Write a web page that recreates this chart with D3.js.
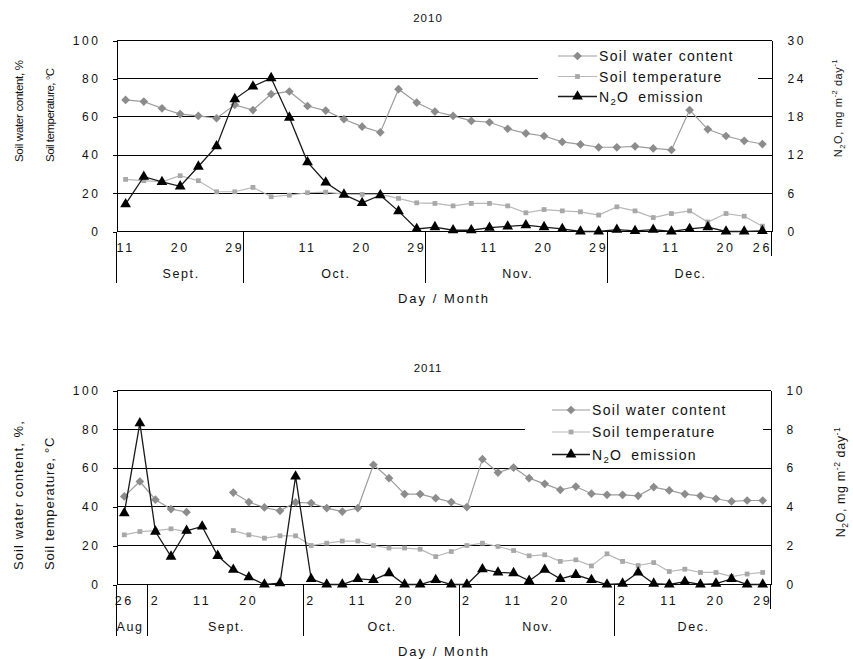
<!DOCTYPE html>
<html>
<head>
<meta charset="utf-8">
<script src="https://cdn.jsdelivr.net/npm/d3@7"></script>
<style>
  body { margin: 0; background: #fff; }
  svg { display: block; }
</style>
</head>
<body>
<script>
// ---- 2010: samples every third day, 11 Sept – 26 Dec ----
const days2010 = ["11","","","20","","","29","","","","11","","","20","","","29","","","","11","","","20","","","29","","","","11","","","20","","26"];
const months2010 = ["Sept.","Oct.","Nov.","Dec."];
const monthLengths2010 = [7,10,10,9];
const water2010 = [68.9,68.0,64.5,61.5,60.5,59.3,66.3,63.6,71.9,73.3,65.7,63.3,58.8,54.9,51.9,74.5,67.5,62.8,60.5,57.9,57.2,53.8,51.4,50.0,46.9,45.6,44.1,44.1,44.6,43.5,42.7,63.6,53.5,50.0,47.5,45.8];
const temp2010 = [27.3,26.6,26.0,29.2,26.6,20.8,20.8,23.1,18.2,19.0,20.3,20.6,19.6,19.4,19.4,17.3,15.0,14.7,13.4,14.7,14.7,13.4,9.8,11.5,10.8,10.3,8.6,12.9,10.8,7.3,9.4,10.8,5.0,9.4,8.0,2.8];
const n2o2010 = [4.3,8.6,7.8,7.1,10.2,13.4,20.8,22.8,24.1,17.9,10.9,7.7,5.8,4.5,5.7,3.2,0.4,0.7,0.2,0.2,0.6,0.8,1.0,0.7,0.4,0,0,0.3,0.1,0.3,0,0.4,0.7,0,0,0.1];
const n2oTicks2010 = [0,6,12,18,24,30];

// ---- 2011: samples every third day, 26 Aug – 29 Dec (no soil readings on two dates) ----
const days2011 = ["26","","2","","","11","","","20","","","","2","","","11","","","20","","","","2","","","11","","","20","","","","2","","","11","","","20","","","29"];
const months2011 = ["Aug","Sept.","Oct.","Nov.","Dec."];
const monthLengths2011 = [2,10,10,10,10];
const water2011 = [45.4,53.1,43.7,38.9,37.3,null,null,47.4,42.5,39.7,38.0,42.3,42.0,39.4,37.6,39.4,61.7,54.8,46.6,46.6,44.5,42.5,39.9,64.6,57.7,60.3,54.8,51.9,48.8,50.5,46.8,46.2,46.2,45.7,50.2,48.5,46.6,45.7,44.2,42.8,43.3,43.3];
const temp2011 = [25.6,27.3,27.8,28.7,27.3,null,null,27.8,25.6,23.9,25.1,25.1,20.1,21.3,22.4,22.4,20.1,18.8,18.8,18.2,14.4,17.0,20.1,21.3,19.6,17.5,14.8,15.3,11.9,12.7,9.6,15.8,11.9,9.8,11.3,6.7,7.9,6.2,6.2,4.1,5.4,6.2];
const n2o2011 = [3.68,8.32,2.73,1.44,2.77,2.99,1.48,0.76,0.38,0,0.07,5.57,0.29,0,0,0.29,0.24,0.59,0,0,0.24,0,0,0.79,0.62,0.59,0.19,0.76,0.29,0.5,0.24,0,0.05,0.62,0.05,0,0.15,0,0.05,0.29,0,0];
const n2oTicks2011 = [0,2,4,6,8,10];

const leftTicks = [0,20,40,60,80,100];
const seriesNames = ["Soil water content","Soil temperature","N2O emission"];

const FONT = "'Liberation Sans', Arial, sans-serif";
const colWater = "#8c8c8c", colWaterLine = "#9c9c9c";
const colTemp = "#a8a8a8", colTempLine = "#b8b8b8";
const colN2O = "#000", colN2OLine = "#1a1a1a";

const svg = d3.select("body").append("svg")
  .attr("width", 853).attr("height", 659)
  .style("font-family", FONT);

const diamond = d3.symbol(d3.symbolSquare, 38);
const square = d3.symbol(d3.symbolSquare, 34);
const triangle = d3.symbol(d3.symbolTriangle, 50);

function drawPanel(p) {
  const n = p.days.length;
  const x = d3.scaleBand().domain(d3.range(n)).range([p.left, p.right]);
  const cx = i => x(i) + x.bandwidth() / 2;
  const yL = d3.scaleLinear().domain([0, 100]).range([p.bottom, p.top]);
  const yR = d3.scaleLinear().domain([0, d3.max(p.n2oTicks)]).range([p.bottom, p.top]);
  const g = svg.append("g");

  // horizontal gridlines (0 is the category axis, 100 is the top border)
  g.append("g").selectAll("line").data(leftTicks).join("line")
    .attr("x1", p.left).attr("x2", p.right)
    .attr("y1", d => yL(d)).attr("y2", d => yL(d))
    .attr("stroke", "#000").attr("stroke-width", 1)
    .attr("shape-rendering", "crispEdges");

  // left value axis
  const axL = g.append("g").attr("transform", `translate(${p.left},0)`)
    .call(d3.axisLeft(yL).tickValues(leftTicks).tickSize(4).tickSizeOuter(0).tickPadding(12));
  axL.attr("font-family", null).attr("font-size", null);
  axL.select(".domain").attr("stroke", "#000").attr("shape-rendering", "crispEdges");
  axL.selectAll(".tick line").attr("stroke", "#000").attr("shape-rendering", "crispEdges");
  axL.selectAll(".tick text").style("font-size", "12px").style("letter-spacing", "2.6px").attr("fill", "#111");

  // right value axis (N2O)
  const axR = g.append("g").attr("transform", `translate(${p.right},0)`)
    .call(d3.axisRight(yR).tickValues(p.n2oTicks).tickSize(0).tickSizeOuter(0).tickPadding(16));
  axR.attr("font-family", null).attr("font-size", null);
  axR.select(".domain").attr("stroke", "#000").attr("shape-rendering", "crispEdges");
  axR.selectAll(".tick text").style("font-size", "12px").style("letter-spacing", "2.6px").attr("fill", "#111");

  // category axis: day labels
  const tickIdx = d3.range(n).filter(i => p.days[i] !== "");
  const axB = g.append("g").attr("transform", `translate(0,${p.bottom})`)
    .call(d3.axisBottom(x).tickValues(tickIdx).tickFormat(i => p.days[i]).tickSize(0).tickPadding(12));
  axB.attr("font-family", null).attr("font-size", null);
  axB.select(".domain").remove();
  axB.selectAll(".tick text").style("font-size", "12.5px").style("letter-spacing", "2.6px")
    .attr("fill", "#111").attr("dx", "0");

  // month separators and month names
  const starts = d3.cumsum([0, ...p.monthLengths]).slice(0, p.months.length);
  starts.forEach((s, k) => {
    const xs = x(s);
    g.append("line").attr("x1", xs).attr("x2", xs)
      .attr("y1", p.bottom).attr("y2", p.bottom + 51)
      .attr("stroke", "#000").attr("shape-rendering", "crispEdges");
    const xe = x(s + p.monthLengths[k] - 1) + x.bandwidth();
    g.append("text").attr("x", (xs + xe) / 2 + (k === 0 && p.monthLengths[0] < 3 ? -2 : 1)).attr("y", p.bottom + 46)
      .attr("text-anchor", "middle").style("font-size", "12.5px").style("letter-spacing", "1.6px")
      .attr("fill", "#111").text(p.months[k]);
  });
  g.append("line").attr("x1", p.right).attr("x2", p.right)
    .attr("y1", p.bottom).attr("y2", p.bottom + 24)
    .attr("stroke", "#000").attr("shape-rendering", "crispEdges");

  g.append("text").attr("x", 444).attr("y", p.bottom + 71)
    .attr("text-anchor", "middle").style("font-size", "13px").style("letter-spacing", "2px")
    .attr("fill", "#111").text("Day / Month");

  // year title
  g.append("text").attr("x", 428).attr("y", p.top - 19)
    .attr("text-anchor", "middle").style("font-size", "11.5px").style("letter-spacing", "1px")
    .attr("fill", "#111").text(p.year);

  // left axis titles
  p.leftTitle.forEach(t => {
    g.append("text")
      .attr("transform", `translate(${t.x},${t.y}) rotate(-90)`)
      .attr("text-anchor", "start")
      .style("font-size", t.size + "px").style("letter-spacing", t.ls + "px")
      .attr("fill", "#111").text(t.text);
  });

  // right axis title N2O, mg m-2 day-1
  const rt = g.append("text")
    .attr("transform", `translate(${p.rightTitle.x},${p.rightTitle.y}) rotate(-90)`)
    .attr("text-anchor", "middle")
    .style("font-size", p.rightTitle.size + "px").style("letter-spacing", "0.6px")
    .attr("fill", "#111");
  const small = p.rightTitle.size * 0.68;
  rt.append("tspan").text("N");
  rt.append("tspan").attr("dy", 3).style("font-size", small + "px").text("2");
  rt.append("tspan").attr("dy", -3).text("O, mg m");
  rt.append("tspan").attr("dy", -5).style("font-size", small + "px").text("-2");
  rt.append("tspan").attr("dy", 5).text(" day");
  rt.append("tspan").attr("dy", -5).style("font-size", small + "px").text("-1");

  // series lines
  const lineL = d3.line().defined(d => d != null).x((d, i) => cx(i)).y(d => yL(d));
  const lineR = d3.line().x((d, i) => cx(i)).y(d => yR(d));
  g.append("path").datum(p.water).attr("d", lineL)
    .attr("fill", "none").attr("stroke", colWaterLine).attr("stroke-width", 1.2);
  g.append("path").datum(p.temp).attr("d", lineL)
    .attr("fill", "none").attr("stroke", colTempLine).attr("stroke-width", 1.2);

  g.append("g").selectAll("path")
    .data(p.water.map((v, i) => [v, i]).filter(d => d[0] != null)).join("path")
    .attr("d", diamond)
    .attr("transform", d => `translate(${cx(d[1])},${yL(d[0])}) rotate(45)`)
    .attr("fill", colWater);
  g.append("g").selectAll("path")
    .data(p.temp.map((v, i) => [v, i]).filter(d => d[0] != null)).join("path")
    .attr("d", square)
    .attr("transform", d => `translate(${cx(d[1])},${yL(d[0])}) scale(0.82)`)
    .attr("fill", colTemp);

  g.append("path").datum(p.n2o).attr("d", lineR)
    .attr("fill", "none").attr("stroke", colN2OLine).attr("stroke-width", 1.3);
  g.append("g").selectAll("path")
    .data(p.n2o.map((v, i) => [v, i])).join("path")
    .attr("d", triangle)
    .attr("transform", d => `translate(${cx(d[1])},${yR(d[0])})`)
    .attr("fill", colN2O);

  // legend
  const L = p.legend;
  const lg = g.append("g");
  lg.append("rect").attr("x", L.x0).attr("y", L.y0)
    .attr("width", L.x1 - L.x0).attr("height", L.y1 - L.y0).attr("fill", "#fff");
  const styles = [
    { c: colWaterLine, m: colWater, sym: diamond, rot: "rotate(45)", w: 1.2 },
    { c: colTempLine, m: colTemp, sym: square, rot: "scale(0.82)", w: 1.2 },
    { c: colN2OLine, m: colN2O, sym: triangle, rot: "", w: 1.3 }
  ];
  seriesNames.forEach((name, k) => {
    const y = L.rows[k], s = styles[k];
    lg.append("line").attr("x1", L.lx0).attr("x2", L.lx1).attr("y1", y).attr("y2", y)
      .attr("stroke", s.c).attr("stroke-width", s.w);
    lg.append("path").attr("d", s.sym)
      .attr("transform", `translate(${(L.lx0 + L.lx1) / 2},${y}) ${s.rot}`).attr("fill", s.m);
    const t = lg.append("text").attr("x", L.tx).attr("y", y + 5)
      .style("font-size", "14px").style("letter-spacing", "1.3px").attr("fill", "#111");
    if (k < 2) t.text(name);
    else {
      t.append("tspan").text("N");
      t.append("tspan").attr("dy", 3).style("font-size", "9.5px").text("2");
      t.append("tspan").attr("dy", -3).text("O");
      t.append("tspan").attr("dx", 9).text("emission");
    }
  });
}

drawPanel({
  year: "2010", days: days2010, months: months2010, monthLengths: monthLengths2010,
  water: water2010, temp: temp2010, n2o: n2o2010, n2oTicks: n2oTicks2010,
  left: 116.5, right: 771.5, top: 40.5, bottom: 231.5,
  leftTitle: [
    { text: "Soil water content, %", x: 23, y: 162, size: 11.5, ls: -0.3 },
    { text: "Soil temperature, °C", x: 54, y: 162, size: 11.5, ls: -0.5 }
  ],
  rightTitle: { x: 842, y: 108, size: 11 },
  legend: { x0: 538, x1: 758, y0: 45, y1: 106, rows: [56, 76.5, 96.5], lx0: 558, lx1: 597, tx: 599 }
});

drawPanel({
  year: "2011", days: days2011, months: months2011, monthLengths: monthLengths2011,
  water: water2011, temp: temp2011, n2o: n2o2011, n2oTicks: n2oTicks2011,
  left: 116.5, right: 770.5, top: 390.5, bottom: 584.5,
  leftTitle: [
    { text: "Soil water content, %,", x: 23, y: 570, size: 13, ls: 1.1 },
    { text: "Soil temperature, °C", x: 54, y: 570, size: 13, ls: 0.8 }
  ],
  rightTitle: { x: 845, y: 482, size: 12.5 },
  legend: { x0: 525, x1: 763, y0: 397, y1: 465, rows: [410, 432, 454.5], lx0: 552, lx1: 590, tx: 592 }
});
</script>
</body>
</html>
